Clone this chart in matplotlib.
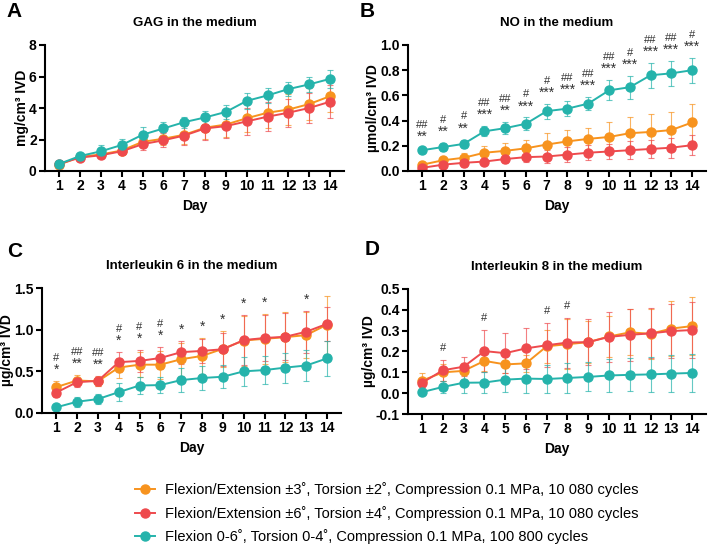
import numpy as np
import matplotlib.pyplot as plt

plt.rcParams['font.family'] = ['Liberation Sans', 'DejaVu Sans']

days = np.arange(1, 15)

# A - GAG (mg/cm3 IVD)
gag_fe3 = [0.4, 0.9, 1.05, 1.3, 1.85, 2.05, 2.3, 2.75, 2.95, 3.35, 3.7, 3.9, 4.25, 4.75]
gag_fe3_sd = [0.1, 0.15, 0.2, 0.2, 0.3, 0.4, 0.6, 0.7, 0.8, 0.9, 1.0, 1.0, 1.0, 1.0]
gag_fe6 = [0.45, 0.85, 1.0, 1.25, 1.7, 1.95, 2.25, 2.7, 2.85, 3.15, 3.45, 3.7, 4.0, 4.4]
gag_fe6_sd = [0.1, 0.1, 0.15, 0.2, 0.35, 0.45, 0.6, 0.75, 0.75, 0.85, 0.9, 0.9, 0.95, 1.05]
gag_flex = [0.45, 0.95, 1.25, 1.65, 2.3, 2.7, 3.1, 3.4, 3.75, 4.45, 4.8, 5.2, 5.5, 5.85]
gag_flex_sd = [0.15, 0.15, 0.4, 0.4, 0.5, 0.4, 0.35, 0.4, 0.45, 0.5, 0.5, 0.45, 0.5, 0.55]

# B - NO (umol/cm3 IVD)
no_fe3 = [0.05, 0.085, 0.105, 0.145, 0.16, 0.18, 0.21, 0.235, 0.255, 0.27, 0.3, 0.31, 0.325, 0.385]
no_fe3_sd = [0.02, 0.03, 0.04, 0.05, 0.06, 0.07, 0.09, 0.09, 0.09, 0.12, 0.13, 0.14, 0.14, 0.15]
no_fe6 = [0.025, 0.05, 0.065, 0.075, 0.095, 0.11, 0.115, 0.13, 0.145, 0.155, 0.165, 0.175, 0.185, 0.205]
no_fe6_sd = [0.02, 0.03, 0.03, 0.03, 0.03, 0.04, 0.05, 0.06, 0.06, 0.06, 0.07, 0.07, 0.08, 0.08]
no_flex = [0.165, 0.19, 0.215, 0.315, 0.34, 0.375, 0.475, 0.495, 0.535, 0.64, 0.665, 0.76, 0.775, 0.8]
no_flex_sd = [0.02, 0.03, 0.035, 0.04, 0.05, 0.05, 0.06, 0.06, 0.05, 0.08, 0.09, 0.1, 0.1, 0.1]
no_stars = ['**', '**', '**', '***', '**', '***', '***', '***', '***', '***', '***', '***', '***', '***']
no_hash = ['##', '#', '#', '##', '##', '#', '#', '##', '##', '##', '#', '##', '##', '#']

# C - IL-6 (ug/cm3 IVD)
il6_fe3 = [0.31, 0.39, 0.38, 0.545, 0.58, 0.58, 0.645, 0.685, 0.77, 0.87, 0.89, 0.91, 0.935, 1.06]
il6_fe3_sd = [0.07, 0.07, 0.05, 0.12, 0.15, 0.17, 0.2, 0.22, 0.22, 0.3, 0.3, 0.3, 0.28, 0.35]
il6_fe6 = [0.245, 0.37, 0.385, 0.61, 0.625, 0.66, 0.73, 0.745, 0.765, 0.875, 0.9, 0.915, 0.975, 1.07]
il6_fe6_sd = [0.05, 0.06, 0.06, 0.12, 0.13, 0.13, 0.14, 0.14, 0.2, 0.3, 0.28, 0.28, 0.25, 0.2]
il6_flex = [0.068, 0.135, 0.167, 0.25, 0.33, 0.335, 0.395, 0.42, 0.435, 0.5, 0.515, 0.545, 0.57, 0.655]
il6_flex_sd = [0.02, 0.06, 0.06, 0.11, 0.1, 0.1, 0.14, 0.14, 0.14, 0.17, 0.17, 0.18, 0.19, 0.21]
il6_stars = ['*', '**', '**', '*', '*', '*', '*', '*', '*', '*', '*', '', '*', '']
il6_hash = ['#', '##', '##', '#', '#', '#', '', '', '', '', '', '', '', '']

# D - IL-8 (ug/cm3 IVD)
il8_fe3 = [0.06, 0.1, 0.107, 0.155, 0.138, 0.143, 0.225, 0.235, 0.245, 0.272, 0.292, 0.285, 0.31, 0.322]
il8_fe3_sd = [0.035, 0.04, 0.04, 0.05, 0.04, 0.04, 0.08, 0.12, 0.1, 0.1, 0.11, 0.12, 0.13, 0.14]
il8_fe6 = [0.05, 0.11, 0.127, 0.202, 0.192, 0.215, 0.23, 0.243, 0.245, 0.27, 0.28, 0.287, 0.298, 0.303]
il8_fe6_sd = [0.02, 0.05, 0.045, 0.1, 0.095, 0.1, 0.105, 0.12, 0.11, 0.12, 0.125, 0.12, 0.13, 0.135]
il8_flex = [0.005, 0.03, 0.05, 0.051, 0.065, 0.07, 0.068, 0.073, 0.078, 0.085, 0.088, 0.09, 0.094, 0.097]
il8_flex_sd = [0.01, 0.03, 0.05, 0.05, 0.06, 0.07, 0.065, 0.07, 0.07, 0.08, 0.08, 0.085, 0.09, 0.09]
il8_stars = [''] * 14
il8_hash = ['', '#', '', '#', '', '', '#', '#', '', '', '', '', '', '']

labels = ['Flexion/Extension \u00b13\u02da, Torsion \u00b12\u02da, Compression 0.1 MPa, 10 080 cycles',
          'Flexion/Extension \u00b16\u02da, Torsion \u00b14\u02da, Compression 0.1 MPa, 10 080 cycles',
          'Flexion 0-6\u02da, Torsion 0-4\u02da, Compression 0.1 MPa, 100 800 cycles']
colors = ['#F7931E', '#EE4A4D', '#25B3AB']

W, H = 709, 547
fig = plt.figure(figsize=(W / 100, H / 100), dpi=100)


def px_axes(left, right, top, bottom):
    return fig.add_axes([left / W, 1 - bottom / H, (right - left) / W, (bottom - top) / H])


def panel(ax, series, ylim, yticks, ylabel, title, letter, letter_xy, stars, hashes, ytickfmt):
    handles = []
    for (m, sd), c in zip(series, colors):
        h = ax.errorbar(days, m, yerr=sd, color=c, marker='o', markersize=6.5, lw=1.4,
                        elinewidth=0.8, capsize=2, capthick=0.8, ecolor=c)
        h[2][0].set_alpha(0.7)
        for cap in h[1]:
            cap.set_alpha(0.7)
        handles.append(h[0])
    ax.set_xlim(0.32, 14.67)
    ax.set_ylim(*ylim)
    ax.set_xticks(days)
    ax.set_yticks(yticks)
    ax.set_yticklabels([ytickfmt.format(v) for v in yticks])
    for s in ['top', 'right']:
        ax.spines[s].set_visible(False)
    for s in ['left', 'bottom']:
        ax.spines[s].set_linewidth(1.5)
    ax.tick_params(width=1.5, length=4, labelsize=10, pad=2)
    for t in ax.get_xticklabels() + ax.get_yticklabels():
        t.set_fontweight('bold')
    ax.set_xlabel('Day', fontsize=10, fontweight='bold', labelpad=4)
    ax.set_ylabel(ylabel, fontsize=10, fontweight='bold', labelpad=0)
    ax.set_title(title, fontsize=9.5, fontweight='bold', pad=14)
    fig.text(letter_xy[0] / W, 1 - letter_xy[1] / H, letter, fontsize=15, fontweight='bold',
             va='top', ha='left')
    tops = np.max([np.array(m) + np.array(sd) for m, sd in series], axis=0)
    for d, t, st, hs in zip(days, tops, stars, hashes):
        off = 3
        if st:
            ax.annotate(st, (d, t), xytext=(0, off), textcoords='offset points',
                        ha='center', va='bottom', fontsize=10, color='#333333')
            off += 8
        if hs:
            ax.annotate(hs, (d, t), xytext=(0, off + 2), textcoords='offset points',
                        ha='center', va='bottom', fontsize=8, color='#333333')
    return handles


axA = px_axes(45, 344, 45, 171)
hA = panel(axA, [(gag_fe3, gag_fe3_sd), (gag_fe6, gag_fe6_sd), (gag_flex, gag_flex_sd)],
           (0, 8), [0, 2, 4, 6, 8], 'mg/cm\u00b3 IVD', 'GAG in the medium', 'A', (6, 2),
           [''] * 14, [''] * 14, '{:g}')

axB = px_axes(408, 706, 45, 171)
panel(axB, [(no_fe3, no_fe3_sd), (no_fe6, no_fe6_sd), (no_flex, no_flex_sd)],
      (0, 1.0), [0, 0.2, 0.4, 0.6, 0.8, 1.0], '\u00b5mol/cm\u00b3 IVD', 'NO in the medium', 'B',
      (360, 2), no_stars, no_hash, '{:.1f}')

axC = px_axes(42, 341, 288, 413)
panel(axC, [(il6_fe3, il6_fe3_sd), (il6_fe6, il6_fe6_sd), (il6_flex, il6_flex_sd)],
      (0, 1.5), [0, 0.5, 1.0, 1.5], '\u00b5g/cm\u00b3 IVD', 'Interleukin 6 in the medium', 'C',
      (7, 242), il6_stars, il6_hash, '{:.1f}')

axD = px_axes(408, 706, 289, 414)
panel(axD, [(il8_fe3, il8_fe3_sd), (il8_fe6, il8_fe6_sd), (il8_flex, il8_flex_sd)],
      (-0.1, 0.5), [-0.1, 0, 0.1, 0.2, 0.3, 0.4, 0.5], '\u00b5g/cm\u00b3 IVD',
      'Interleukin 8 in the medium', 'D', (365, 240), il8_stars, il8_hash, '{:.1f}')

fig.legend(hA, labels, loc='upper left', bbox_to_anchor=(135 / W, 1 - 482 / H),
           frameon=False, fontsize=10.5, borderpad=0, borderaxespad=0, handlelength=1.4,
           handletextpad=0.65, labelspacing=0.6)

fig.savefig('out.png', dpi=100)
